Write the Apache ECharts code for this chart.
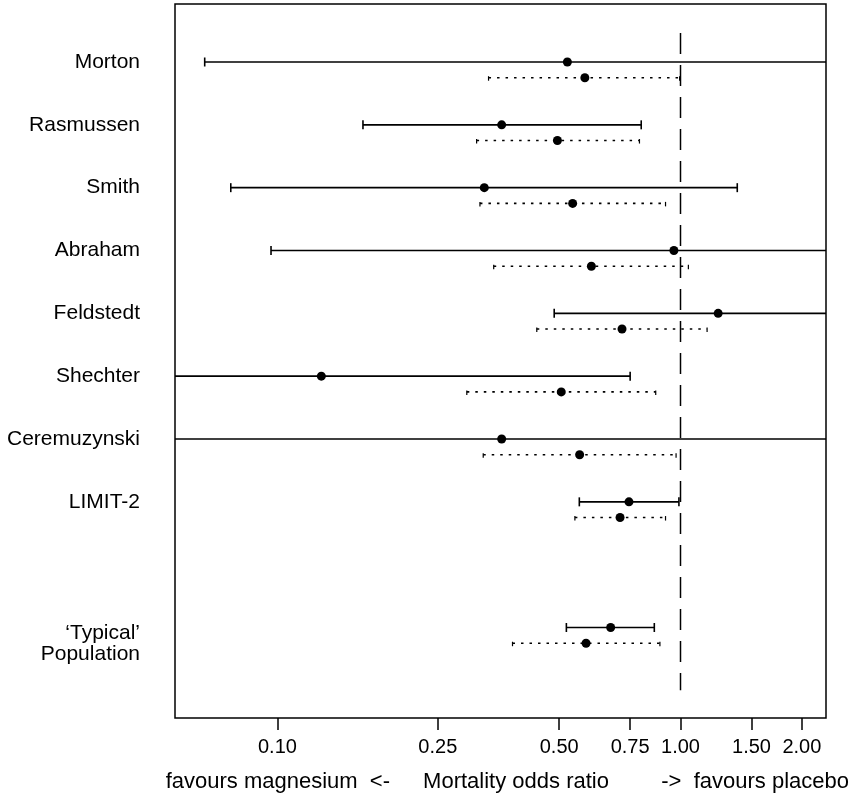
<!DOCTYPE html>
<html>
<head>
<meta charset="utf-8">
<script src="https://cdn.jsdelivr.net/npm/echarts@6/dist/echarts.min.js"></script>
<style>
  html, body { margin: 0; padding: 0; background: #ffffff; }
  #chart { width: 854px; height: 797px; }
</style>
</head>
<body>
<div id="chart"></div>
<script>
// Trials, in plotting order (top to bottom)
const studies = ['Morton', 'Rasmussen', 'Smith', 'Abraham', 'Feldstedt', 'Shechter',
                 'Ceremuzynski', 'LIMIT-2', '\u2018Typical\u2019\nPopulation'];
const rows = [1, 2, 3, 4, 5, 6, 7, 8, 10];

// Each trial on its own: odds ratio and 95% interval (solid)
const trialOR = [0.524, 0.360, 0.326, 0.963, 1.240, 0.1285, 0.360, 0.745, 0.671];
const trialLo = [0.066, 0.163, 0.0766, 0.0964, 0.486, 0.040, 0.030, 0.561, 0.521];
const trialHi = [4.20, 0.799, 1.383, 9.50, 3.20, 0.750, 4.50, 0.991, 0.861];

// Shrunk (random-effects) estimates and 95% intervals (dotted)
const shrunkOR = [0.579, 0.495, 0.540, 0.601, 0.716, 0.506, 0.562, 0.708, 0.583];
const shrunkLo = [0.334, 0.312, 0.318, 0.344, 0.440, 0.295, 0.324, 0.547, 0.383];
const shrunkHi = [0.995, 0.791, 0.918, 1.046, 1.164, 0.868, 0.975, 0.918, 0.889];

// Odds-ratio axis ticks
const xTicks = [0.10, 0.25, 0.50, 0.75, 1.00, 1.50, 2.00];

const FONT = '"Liberation Sans", Arial, Helvetica, sans-serif';
const dotOffset = 0.25;   // the shrunk interval sits just below its trial's line

// Interval rows: [lo, hi, row, kind] with kind 0 = solid, 1 = dotted
const intervalData = [];
rows.forEach((r, i) => {
  intervalData.push([trialLo[i], trialHi[i], r, 0]);
  intervalData.push([shrunkLo[i], shrunkHi[i], r + dotOffset, 1]);
});
const pointData = [];
rows.forEach((r, i) => {
  pointData.push([trialOR[i], r]);
  pointData.push([shrunkOR[i], r + dotOffset]);
});

// Label anchors on the y axis: the pooled row is centred between its two lines
const labelPos = rows.map((r, i) => i === rows.length - 1 ? r + dotOffset : r);

function renderInterval(params, api) {
  const lo = api.value(0), hi = api.value(1), y = api.value(2);
  const dotted = api.value(3) === 1;
  const cs = params.coordSys;
  const xMin = cs.x, xMax = cs.x + cs.width;
  const p0 = api.coord([lo, y]);
  const p1 = api.coord([hi, y]);
  const x0 = Math.max(p0[0], xMin), x1 = Math.min(p1[0], xMax);
  const py = p0[1];
  const main = {
    stroke: '#000', lineWidth: 1.6,
    lineDash: dotted ? [2.5, 6] : null
  };
  const children = [{
    type: 'line', shape: { x1: x0, y1: py, x2: x1, y2: py }, style: main
  }];
  const capUp = dotted ? -1.5 : -4.5, capDown = dotted ? 3 : 4.5;
  const capStyle = { stroke: '#000', lineWidth: dotted ? 1.2 : 1.6 };
  if (p0[0] >= xMin) {
    children.push({ type: 'line', shape: { x1: p0[0], y1: py + capUp, x2: p0[0], y2: py + capDown }, style: capStyle });
  }
  if (p1[0] <= xMax) {
    children.push({ type: 'line', shape: { x1: p1[0], y1: py + capUp, x2: p1[0], y2: py + capDown }, style: capStyle });
  }
  return { type: 'group', children: children };
}

const chart = echarts.init(document.getElementById('chart'), null, { renderer: 'canvas' });

function caption(text, x, align) {
  return {
    type: 'text', x: x, y: 782,
    style: { text: text, font: '22px ' + FONT, fill: '#000',
             align: align, textAlign: align, verticalAlign: 'middle', textVerticalAlign: 'middle' }
  };
}

chart.setOption({
  animation: false,
  backgroundColor: '#ffffff',
  textStyle: { fontFamily: FONT },
  grid: {
    left: 175, top: 4, width: 651, height: 714,
    show: true, borderColor: '#000', borderWidth: 1.5, backgroundColor: 'transparent',
    containLabel: false, outerBoundsMode: 'none'
  },
  xAxis: {
    type: 'log', logBase: 10, min: 0.0557, max: 2.296,
    axisLine: { show: false },
    splitLine: { show: false },
    minorTick: { show: false },
    axisTick: {
      show: true, inside: false, length: 12, customValues: xTicks,
      lineStyle: { color: '#000', width: 1.5 }
    },
    axisLabel: {
      show: true, customValues: xTicks, margin: 19,
      color: '#000', fontSize: 20, fontFamily: FONT,
      formatter: v => Number(v).toFixed(2)
    }
  },
  yAxis: {
    type: 'value', inverse: true, min: 0.077, max: 11.44,
    axisLine: { show: false },
    axisTick: { show: false },
    splitLine: { show: false },
    axisLabel: {
      show: true, customValues: labelPos, margin: 35,
      color: '#000', fontSize: 21, fontFamily: FONT, lineHeight: 21, align: 'right',
      formatter: v => {
        const k = labelPos.findIndex(p => Math.abs(p - v) < 1e-6);
        return k >= 0 ? studies[k] : '';
      }
    }
  },
  series: [
    {
      // no-effect reference line at odds ratio 1
      type: 'line',
      data: [[1, 0.54], [1, 11.0]],
      symbol: 'none',
      lineStyle: { color: '#000', width: 1.5, type: [21, 11] },
      silent: true,
      z: 1
    },
    {
      type: 'custom',
      renderItem: renderInterval,
      dimensions: ['lo', 'hi', 'row', 'kind'],
      encode: { x: [0, 1], y: 2 },
      data: intervalData,
      silent: true,
      z: 2
    },
    {
      type: 'scatter',
      data: pointData,
      symbol: 'circle',
      symbolSize: 9,
      itemStyle: { color: '#000', opacity: 1 },
      silent: true,
      z: 3
    }
  ],
  graphic: [
    caption('favours magnesium  <-', 390, 'right'),
    caption('Mortality odds ratio', 516, 'center'),
    caption('->  favours placebo', 849, 'right')
  ]
});
</script>
</body>
</html>
